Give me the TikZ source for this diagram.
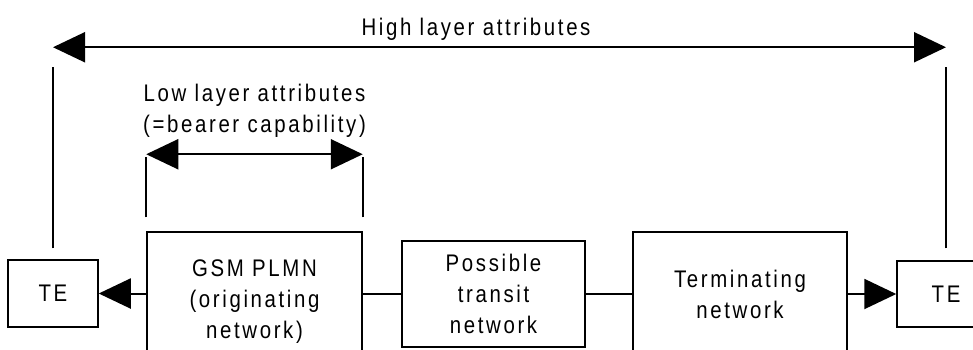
\documentclass[tikz,border=0pt]{standalone}
\usepackage{fontspec}
\setmainfont{Liberation Sans}[LetterSpace=11,FakeStretch=0.85]
\usetikzlibrary{arrows.meta,calc}

\begin{document}
\begin{tikzpicture}[x=1pt,y=-1pt,
  font=\fontsize{24}{31}\selectfont,
  box/.style={draw,line width=1.5pt,align=center,inner sep=0pt},
  biarrow/.style={line width=2pt,{Triangle[length=32pt,width=30pt]}-{Triangle[length=32pt,width=30pt]}},
  toarrow/.style={line width=2pt,-{Triangle[length=32pt,width=30pt]}},
  link/.style={line width=2pt},
  tick/.style={line width=2pt}]

\useasboundingbox (0,0) rectangle (973,349);
\clip (0,0) rectangle (973,349);

% boxes
\node[box,minimum width=90pt,minimum height=67pt](teL) at (53,293.5){TE};
\node[box,minimum width=215pt,minimum height=140pt](gsm) at (254.5,302){GSM PLMN\\(originating\\network)};
\node[box,minimum width=183pt,minimum height=106pt](transit) at (493.5,294){Possible\\transit\\network};
\node[box,minimum width=214pt,minimum height=124pt](term) at (740,294){Terminating\\network};
\node[box,minimum width=98pt,minimum height=66pt](teR) at (946,294){TE};

% connections
\draw[toarrow](gsm.west |- teL.east)--(teL.east);
\draw[link](gsm.east |- transit.west)--(transit.west);
\draw[link](transit.east)--(term.west);
\draw[toarrow](term.east)--(teR.west);

% high layer
\coordinate(hiL) at ([yshift=212pt]teL.north);
\coordinate(hiR) at ([yshift=213pt]teR.north);
\draw[biarrow](hiL)--(hiR);
\node[above=4pt] (hightext) at (476,48) {High layer attributes};
\draw[tick]([yshift=11pt]teL.north)--++(0,-181);
\draw[tick]([yshift=12pt]teR.north)--++(0,-181);

% low layer
\coordinate(loL) at ([yshift=77pt]gsm.north west);
\coordinate(loR) at ([yshift=77pt]gsm.north east);
\draw[biarrow](loL)--(loR);
\node[align=center,above=13pt] (lowtext) at ($(loL)!0.5!(loR)$) {Low layer attributes\\(=bearer capability)};
\draw[tick]([yshift=14pt]gsm.north west)--++(0,-60);
\draw[tick]([yshift=14pt]gsm.north east)--++(0,-60);

\end{tikzpicture}
\end{document}
